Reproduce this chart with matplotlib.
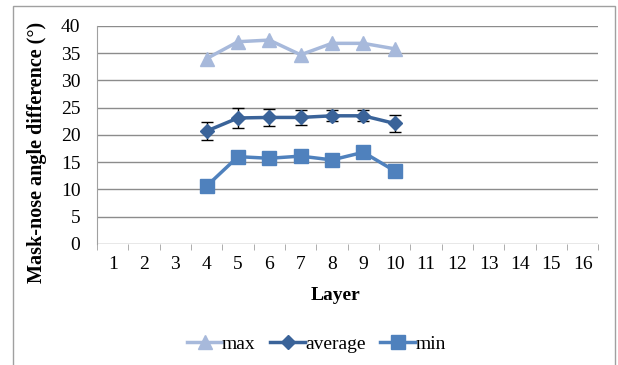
import matplotlib.pyplot as plt
from matplotlib.patches import Rectangle
from matplotlib.lines import Line2D

# Données
couches = [4, 5, 6, 7, 8, 9, 10]
val_max = [34.0, 37.1, 37.4, 34.7, 36.8, 36.8, 35.8]
val_moy = [20.7, 23.1, 23.2, 23.2, 23.5, 23.5, 22.1]
err_moy = [1.7, 1.85, 1.5, 1.3, 1.0, 1.0, 1.5]
val_min = [10.6, 16.0, 15.7, 16.1, 15.4, 16.8, 13.4]
etiquettes_x = [str(i) for i in range(1, 17)]

plt.rcParams['font.family'] = ['Liberation Serif', 'DejaVu Serif']

fig = plt.figure(figsize=(6.18, 3.65), dpi=100)
ax = fig.add_axes([0.157, 0.332, 0.811, 0.597])

# Cadre extérieur
fig.patches.append(Rectangle((13/618, -0.01), 602/618, 1 - 6/365 + 0.01,
                             transform=fig.transFigure, fill=False,
                             edgecolor='#a0a0a0', linewidth=1.0))

c_max = '#a7b9db'
c_moy = '#3a6399'
c_min = '#4f81bd'

ax.plot(couches, val_max, color=c_max, linewidth=2.5, marker='^', markersize=10, zorder=3)
ax.errorbar(couches, val_moy, yerr=err_moy, color=c_moy, linewidth=2.5, marker='D', markersize=7,
            ecolor='black', elinewidth=1, capsize=4, zorder=3)
ax.plot(couches, val_min, color=c_min, linewidth=2.5, marker='s', markersize=9.5, zorder=3)

ax.set_xlim(0.5, 16.5)
ax.set_ylim(0, 40)
ax.set_yticks(range(0, 41, 5))
ax.yaxis.grid(True, color='#8c8c8c', linewidth=1)
ax.set_axisbelow(True)

ax.set_xticks(range(1, 17))
ax.set_xticklabels(etiquettes_x)
ax.set_xticks([i + 0.5 for i in range(0, 17)], minor=True)
ax.tick_params(axis='x', which='major', length=0, pad=9, labelsize=14)
ax.tick_params(axis='x', which='minor', length=4, color='#a0a0a0', direction='out')
ax.tick_params(axis='y', length=0, pad=12, labelsize=14)

for cote in ['top', 'right', 'bottom']:
    ax.spines[cote].set_visible(False)
ax.spines['left'].set_color('#a0a0a0')

ax.set_xlabel('Layer', fontsize=14, fontweight='bold')
ax.xaxis.set_label_coords(0.475, -0.2)
ax.set_ylabel('Mask-nose angle difference (°)', fontsize=14.5, fontweight='bold')
ax.yaxis.set_label_coords(-0.1, 0.42)

poignees = [
    Line2D([0], [0], color=c_max, linewidth=2.5, marker='^', markersize=10, label='max'),
    Line2D([0], [0], color=c_moy, linewidth=2.5, marker='D', markersize=7, label='average'),
    Line2D([0], [0], color=c_min, linewidth=2.5, marker='s', markersize=9.5, label='min'),
]
fig.legend(handles=poignees, loc='center', bbox_to_anchor=(0.512, 0.058), ncol=3, frameon=False,
           fontsize=14, handlelength=1.8, columnspacing=0.75, handletextpad=0.0)

fig.savefig('out.png', dpi=100)
